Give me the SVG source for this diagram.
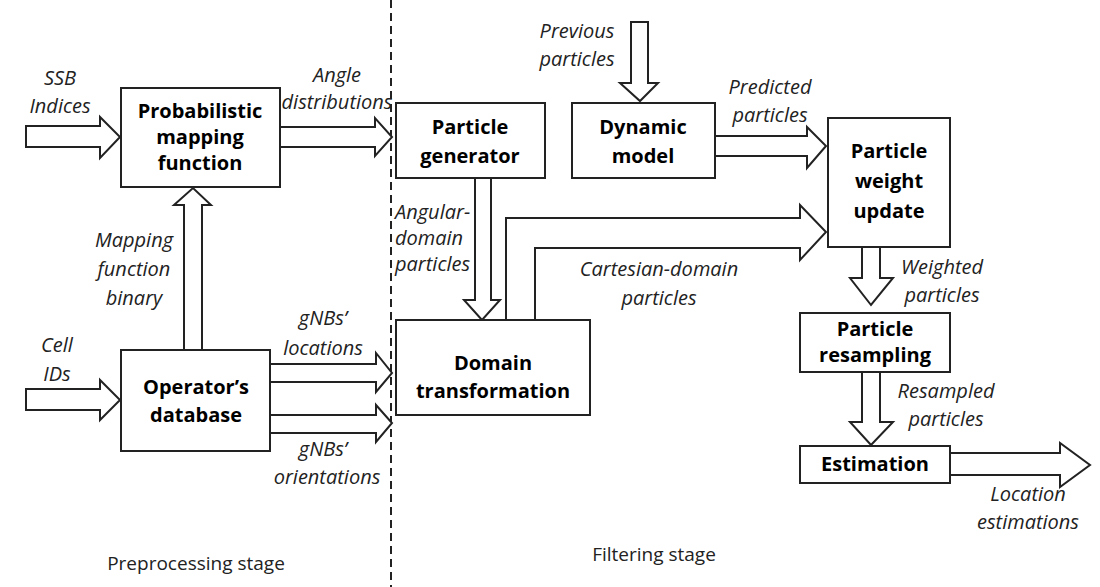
<svg xmlns="http://www.w3.org/2000/svg" width="1100" height="587" viewBox="0 0 1100 587">
<style>
.box{fill:#fff;stroke:#222;stroke-width:2}
.ar{fill:#fff;stroke:#222;stroke-width:2;stroke-linejoin:miter}
.b{font-family:"Open Sans","Liberation Sans",sans-serif;font-weight:bold;font-size:20px;text-anchor:middle;fill:#000}
.i{font-family:"Open Sans","Liberation Sans",sans-serif;font-style:italic;font-size:20px;fill:#222}
.s{font-family:"Open Sans","Liberation Sans",sans-serif;font-size:19px;fill:#222}
</style>
<rect width="1100" height="587" fill="#fff"/>
<line x1="391" y1="0" x2="391" y2="587" stroke="#222" stroke-width="2" stroke-dasharray="8,5"/>
<g id="connectors">
<polygon class="ar" points="26,126 100,126 100,117 120,137 100,158 100,147 26,147"/>
<polygon class="ar" points="280,127 375,127 375,118 392,137 375,156 375,147 280,147"/>
<polygon class="ar" points="184,350 184,205 174,205 193,188 211,205 202,205 202,350"/>
<polygon class="ar" points="26,389 100,389 100,380 120,400 100,420 100,410 26,410"/>
<polygon class="ar" points="270,364 376,364 376,353 392,373 376,392 376,382 270,382"/>
<polygon class="ar" points="270,415 376,415 376,405 392,423 376,442 376,433 270,433"/>
<polygon class="ar" points="475,178 491,178 491,300 500,300 482,320 464,300 475,300"/>
<polygon class="ar" points="631,22 648,22 648,83 658,83 640,101 620,83 631,83"/>
<polygon class="ar" points="715,136 807,136 807,127 826,146 807,168 807,156 715,156"/>
<polygon class="ar" points="506,320 506,218 800,218 800,205 826,232 800,260 800,248 535,248 535,320"/>
<polygon class="ar" points="862,247 880,247 880,278 893,278 871,305 850,278 862,278"/>
<polygon class="ar" points="862,372 880,372 880,422 893,422 871,445 850,422 862,422"/>
<polygon class="ar" points="950,453 1060,453 1060,443 1090,465 1060,487 1060,475 950,475"/>
</g>
<g id="prob"><rect class="box" x="121" y="88" width="159" height="99"/><text class="b" x="200" y="118">Probabilistic</text><text class="b" x="200" y="144">mapping</text><text class="b" x="200" y="170">function</text></g>
<g id="opdb"><rect class="box" x="121" y="350" width="149" height="101"/><text class="b" x="196" y="394">Operator’s</text><text class="b" x="196" y="422">database</text></g>
<g id="pgen"><rect class="box" x="396" y="103" width="149" height="75"/><text class="b" x="470" y="134">Particle</text><text class="b" x="470" y="163">generator</text></g>
<g id="dyn"><rect class="box" x="572" y="103" width="143" height="75"/><text class="b" x="643" y="134">Dynamic</text><text class="b" x="643" y="163">model</text></g>
<g id="pwu"><rect class="box" x="828" y="118" width="122" height="129"/><text class="b" x="889" y="158">Particle</text><text class="b" x="889" y="188">weight</text><text class="b" x="889" y="218">update</text></g>
<g id="dom"><rect class="box" x="396" y="320" width="194" height="95"/><text class="b" x="493" y="370">Domain</text><text class="b" x="493" y="398">transformation</text></g>
<g id="resamp"><rect class="box" x="800" y="313" width="150" height="59"/><text class="b" x="875" y="336">Particle</text><text class="b" x="875" y="362">resampling</text></g>
<g id="est"><rect class="box" x="800" y="446" width="150" height="37"/><text class="b" x="875" y="471">Estimation</text></g>
<g id="labels">
<text class="i" x="60" y="85" text-anchor="middle">SSB</text>
<text class="i" x="60" y="113" text-anchor="middle">Indices</text>
<text class="i" x="337" y="82" text-anchor="middle" font-size="16">Angle</text>
<text class="i" x="337" y="109" text-anchor="middle" font-size="16">distributions</text>
<text class="i" x="134" y="247" text-anchor="middle">Mapping</text>
<text class="i" x="134" y="276" text-anchor="middle">function</text>
<text class="i" x="134" y="305" text-anchor="middle">binary</text>
<text class="i" x="57" y="352" text-anchor="middle">Cell</text>
<text class="i" x="57" y="381" text-anchor="middle">IDs</text>
<text class="i" x="323" y="325" text-anchor="middle">gNBs’</text>
<text class="i" x="323" y="355" text-anchor="middle">locations</text>
<text class="i" x="323" y="456" text-anchor="middle">gNBs’</text>
<text class="i" x="327" y="484" text-anchor="middle">orientations</text>
<text class="i" x="395" y="219" font-size="14">Angular-</text>
<text class="i" x="395" y="245" font-size="14">domain</text>
<text class="i" x="395" y="271" font-size="14">particles</text>
<text class="i" x="577" y="38" text-anchor="middle">Previous</text>
<text class="i" x="577" y="66" text-anchor="middle">particles</text>
<text class="i" x="770" y="94" text-anchor="middle">Predicted</text>
<text class="i" x="770" y="122" text-anchor="middle">particles</text>
<text class="i" x="659" y="276" text-anchor="middle">Cartesian-domain</text>
<text class="i" x="659" y="305" text-anchor="middle">particles</text>
<text class="i" x="942" y="274" text-anchor="middle">Weighted</text>
<text class="i" x="942" y="302" text-anchor="middle">particles</text>
<text class="i" x="946" y="398" text-anchor="middle">Resampled</text>
<text class="i" x="946" y="426" text-anchor="middle">particles</text>
<text class="i" x="1028" y="501" text-anchor="middle">Location</text>
<text class="i" x="1028" y="529" text-anchor="middle">estimations</text>
<text class="s" x="196" y="570" text-anchor="middle">Preprocessing stage</text>
<text class="s" x="654" y="561" text-anchor="middle">Filtering stage</text>
</g>
</svg>
